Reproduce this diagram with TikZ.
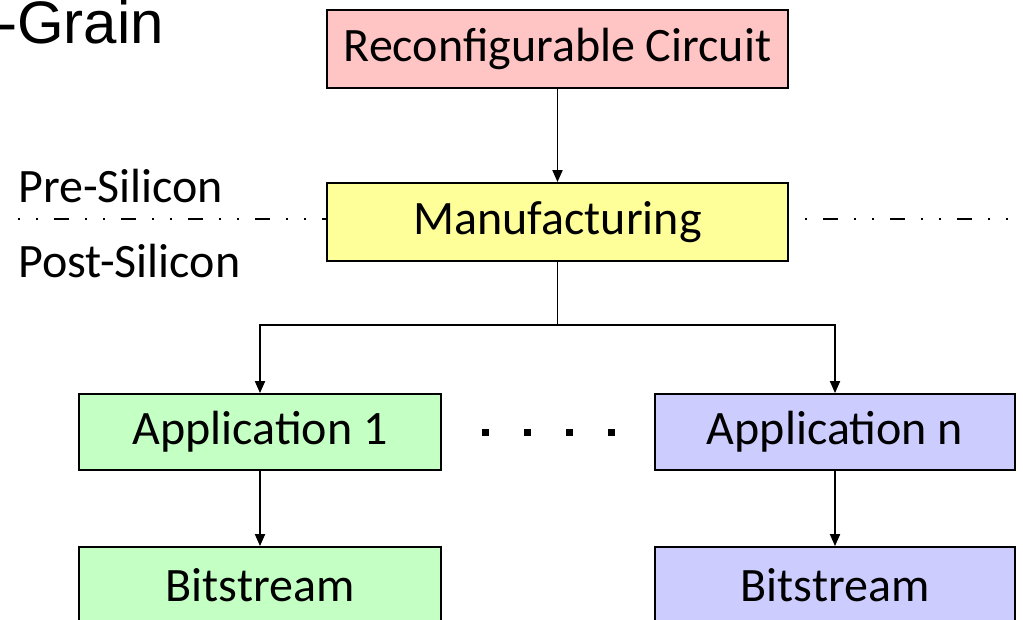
\documentclass[tikz,border=0pt]{standalone}
\usepackage{fontspec}
\setmainfont{Carlito}
\newfontfamily\arialfont{Liberation Sans}
\usetikzlibrary{arrows.meta}
\definecolor{pinkfill}{HTML}{FFC4C4}
\definecolor{yellowfill}{HTML}{FFFF99}
\definecolor{greenfill}{HTML}{C4FFC4}
\definecolor{bluefill}{HTML}{CCCCFF}
\newcommand{\boxtext}[1]{\raisebox{-5pt}{#1}}
\tikzset{
  stagebox/.style={draw=black, line width=1.8pt, inner sep=0pt,
    font=\fontsize{48}{56}\selectfont},
  flow/.style={line width=1.8pt, -{Triangle[length=12pt,width=10pt]}},
  plainline/.style={line width=1.8pt},
  phaseline/.style={line width=1.8pt,
    dash pattern=on 2pt off 16pt on 2pt off 16pt on 15pt off 16pt},
  sidelabel/.style={font=\fontsize{48}{56}\selectfont, inner sep=0pt, anchor=base west}
}
\begin{document}
\begin{tikzpicture}[x=1pt,y=-1pt]
\useasboundingbox (0,0) rectangle (1023,620);

% title fragment in the corner
\node[font=\arialfont\fontsize{60}{66}\selectfont, inner sep=0pt, anchor=base east] (title) at (164,44) {-Grain};

% phase separation line
\coordinate (lineL) at (18,219);
\coordinate (lineR) at (1023,219);

% boxes
\node[stagebox, fill=pinkfill, minimum width=461pt, minimum height=78pt] (rc) at (557.5,49) {\boxtext{Reconfigurable Circuit}};
\draw[phaseline] (lineL) -- (329,219);
\draw[phaseline] (787,219) -- (lineR);
\node[stagebox, fill=yellowfill, minimum width=461pt, minimum height=78pt] (mf) at (557.5,222) {\boxtext{Manufacturing}};
\node[stagebox, fill=greenfill, minimum width=362pt, minimum height=76pt] (app1) at (260,432) {\boxtext{Application 1}};
\node[stagebox, fill=bluefill, minimum width=360pt, minimum height=76pt] (appn) at (835,432) {\boxtext{Application n}};
\node[stagebox, fill=greenfill, minimum width=362pt, minimum height=76pt] (bs1) at (260,585) {\boxtext{Bitstream}};
\node[stagebox, fill=bluefill, minimum width=360pt, minimum height=76pt] (bsn) at (835,585) {\boxtext{Bitstream}};

% phase labels
\node[sidelabel] (pre) at (18,203) {Pre-Silicon};
\node[sidelabel] (post) at (18,278) {Post-Silicon};

% ellipsis dots between the applications
\foreach \xx in {485,527,569,611}
  \fill (\xx-3.5,428.5) rectangle (\xx+3.5,435.5);

% connectors
\coordinate (split) at (557.5,325);
\draw[flow] (rc) -- (mf);
\draw[plainline] (mf.south) -- (split);
\draw[flow] (split) -| (app1.north);
\draw[flow] (split) -| (appn.north);
\draw[flow] (app1) -- (bs1);
\draw[flow] (appn) -- (bsn);
\end{tikzpicture}
\end{document}
